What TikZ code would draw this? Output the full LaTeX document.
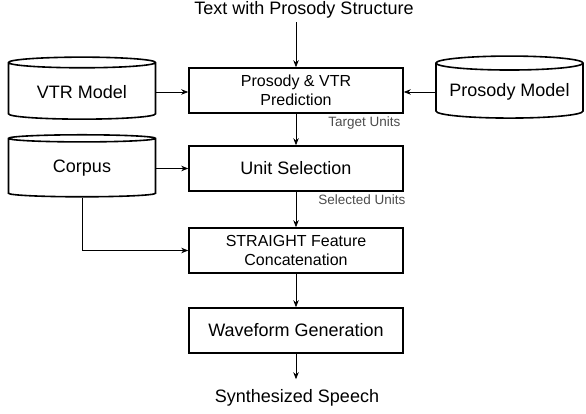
\documentclass[tikz,border=0pt]{standalone}
\usepackage{fontspec}
\setmainfont{Liberation Sans}
\usetikzlibrary{shapes.geometric,arrows.meta}

\tikzset{
  stage/.style={draw, rectangle, line width=1.6pt, minimum width=214pt, minimum height=45pt, align=center, font=\fontsize{18}{21}\selectfont},
  stage2/.style={stage, font=\fontsize{16}{19}\selectfont},
  store/.style={draw, cylinder, shape border rotate=90, aspect=0.11, line width=1.6pt, minimum width=147pt, minimum height=62pt, font=\fontsize{18}{21}\selectfont},
  note/.style={font=\fontsize{13.5}{16}\selectfont, text=black!70, inner sep=3pt},
  io/.style={font=\fontsize{18}{21}\selectfont}
}

\begin{document}
\begin{tikzpicture}[>={Stealth[length=7pt,width=5.5pt]}, line width=0.8pt]
    \useasboundingbox (0,0) rectangle (586pt,-414pt);

    \node (pred) [stage2] at (296pt,-90.5pt) {Prosody \& VTR\\Prediction};
    \node (input) [io, above of=pred, node distance=80.5pt, xshift=8pt] {Text with Prosody Structure};
    \node (vtr) [store, left of=pred, node distance=214pt, yshift=-1.5pt] {VTR Model};
    \node (prosmodel) [store, right of=pred, node distance=213.5pt, yshift=-1.5pt] {Prosody Model};

    \node (unitsel) [stage, below of=pred, node distance=78pt] {Unit Selection};
    \node (corpus) [store, left of=unitsel, node distance=214pt] {Corpus};
    \node (straight) [stage2, below of=unitsel, node distance=82pt] {STRAIGHT Feature\\Concatenation};
    \node (wave) [stage, below of=straight, node distance=80pt] {Waveform Generation};
    \node (speech) [io, inner sep=10pt, below of=wave, node distance=67.5pt, xshift=1pt] {Synthesized Speech};

    \node (tgtunits) [note, anchor=north east] at (pred.south east) {Target Units};
    \node (selunits) [note, anchor=north east, xshift=5pt] at (unitsel.south east) {Selected Units};

    \draw[->] (input.south -| pred.north) -- (pred.north);
    \draw[->] (vtr.east) -- (vtr.east -| pred.west);
    \draw[->] (prosmodel.west) -- (prosmodel.west -| pred.east);
    \draw[->] (pred) -- (unitsel);
    \draw[->] (corpus.east) -- (corpus.east -| unitsel.west);
    \draw[->] (unitsel) -- (straight);
    \draw[->] (corpus.south) |- (straight.west);
    \draw[->] (straight) -- (wave);
    \draw[->] (wave.south) -- (wave.south |- speech.north);
\end{tikzpicture}
\end{document}
